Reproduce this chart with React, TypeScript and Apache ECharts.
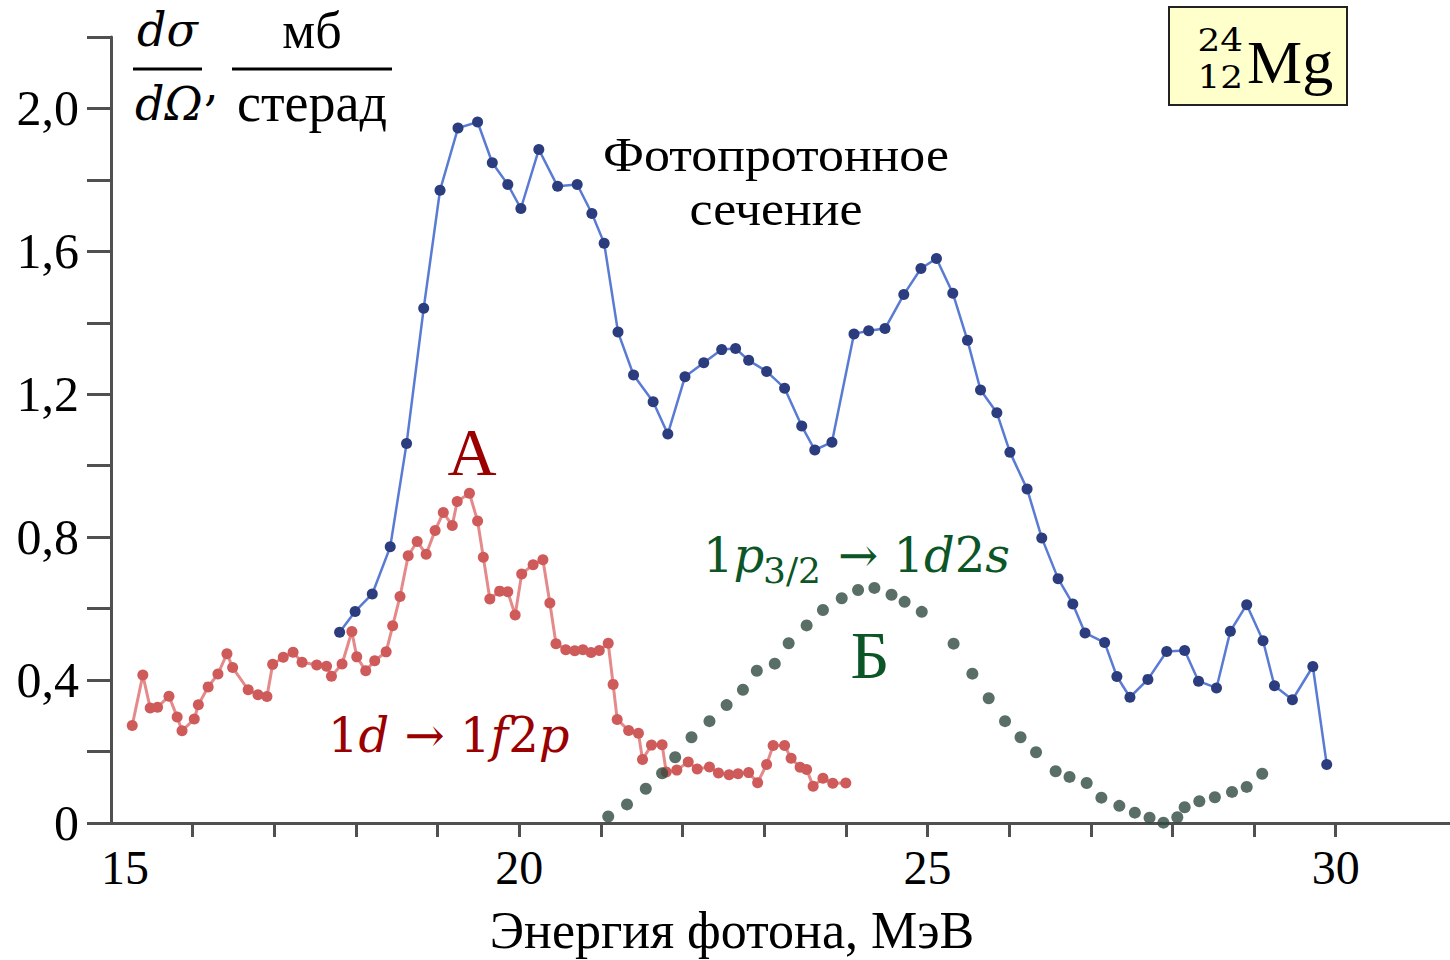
import React, { useEffect, useRef } from "react";
import * as echarts from "echarts";

// Фотопротонное сечение (blue)
const protonX = [17.80, 17.99, 18.20, 18.42, 18.62, 18.83, 19.03, 19.25, 19.49, 19.67, 19.86, 20.02, 20.24, 20.47, 20.71, 20.89, 21.04, 21.21, 21.40, 21.64, 21.82, 22.03, 22.26, 22.48, 22.65, 22.81, 23.03, 23.25, 23.46, 23.62, 23.83, 24.10, 24.28, 24.48, 24.71, 24.92, 25.11, 25.31, 25.49, 25.65, 25.85, 26.01, 26.22, 26.40, 26.60, 26.78, 26.93, 27.17, 27.32, 27.48, 27.70, 27.93, 28.15, 28.32, 28.54, 28.71, 28.91, 29.11, 29.25, 29.47, 29.72, 29.89];
const protonY = [0.534, 0.592, 0.641, 0.773, 1.062, 1.441, 1.771, 1.945, 1.962, 1.848, 1.787, 1.720, 1.885, 1.782, 1.787, 1.706, 1.623, 1.374, 1.254, 1.179, 1.089, 1.249, 1.288, 1.325, 1.328, 1.295, 1.264, 1.217, 1.111, 1.044, 1.066, 1.369, 1.378, 1.384, 1.479, 1.552, 1.580, 1.483, 1.351, 1.212, 1.148, 1.038, 0.935, 0.798, 0.684, 0.613, 0.532, 0.505, 0.410, 0.352, 0.402, 0.480, 0.483, 0.397, 0.378, 0.537, 0.611, 0.510, 0.384, 0.345, 0.438, 0.164];

// А: 1d → 1f2p (red)
const redX = [15.26, 15.39, 15.48, 15.57, 15.71, 15.81, 15.87, 16.02, 16.07, 16.19, 16.31, 16.42, 16.49, 16.68, 16.80, 16.91, 16.98, 17.11, 17.23, 17.34, 17.52, 17.64, 17.70, 17.83, 17.95, 18.01, 18.12, 18.23, 18.37, 18.45, 18.54, 18.64, 18.75, 18.86, 18.97, 19.07, 19.18, 19.24, 19.39, 19.49, 19.56, 19.64, 19.76, 19.86, 19.95, 20.03, 20.17, 20.29, 20.375, 20.45, 20.57, 20.68, 20.78, 20.88, 20.98, 21.09, 21.15, 21.20, 21.34, 21.46, 21.51, 21.62, 21.75, 21.80, 21.93, 22.07, 22.18, 22.33, 22.44, 22.57, 22.68, 22.81, 22.92, 23.03, 23.11, 23.25, 23.33, 23.44, 23.52, 23.60, 23.72, 23.84, 24.00];
const redY = [0.273, 0.414, 0.322, 0.324, 0.355, 0.297, 0.258, 0.291, 0.331, 0.381, 0.417, 0.474, 0.435, 0.373, 0.359, 0.354, 0.444, 0.464, 0.478, 0.450, 0.442, 0.439, 0.411, 0.445, 0.536, 0.465, 0.426, 0.454, 0.479, 0.552, 0.634, 0.748, 0.788, 0.752, 0.819, 0.869, 0.833, 0.900, 0.923, 0.845, 0.744, 0.627, 0.649, 0.647, 0.582, 0.697, 0.723, 0.737, 0.616, 0.502, 0.485, 0.482, 0.485, 0.477, 0.483, 0.503, 0.388, 0.290, 0.259, 0.251, 0.178, 0.218, 0.219, 0.143, 0.148, 0.171, 0.151, 0.157, 0.140, 0.135, 0.138, 0.141, 0.113, 0.164, 0.217, 0.217, 0.181, 0.156, 0.150, 0.103, 0.125, 0.111, 0.112];

// Б: 1p3/2 → 1d2s (green dots)
const greenX = [21.09, 21.32, 21.55, 21.75, 21.91, 22.11, 22.33, 22.54, 22.74, 22.91, 23.13, 23.30, 23.52, 23.72, 23.95, 24.15, 24.35, 24.56, 24.72, 24.93, 25.32, 25.55, 25.75, 25.95, 26.14, 26.33, 26.57, 26.74, 26.95, 27.13, 27.35, 27.54, 27.72, 27.89, 28.06, 28.15, 28.33, 28.52, 28.73, 28.91, 29.10];
const greenY = [0.018, 0.052, 0.096, 0.139, 0.184, 0.240, 0.285, 0.330, 0.373, 0.426, 0.446, 0.503, 0.553, 0.596, 0.629, 0.652, 0.658, 0.639, 0.619, 0.591, 0.502, 0.418, 0.349, 0.285, 0.240, 0.198, 0.145, 0.129, 0.112, 0.071, 0.048, 0.029, 0.015, 0.001, 0.016, 0.044, 0.061, 0.072, 0.087, 0.101, 0.138];

const xTickValues = [16, 17, 18, 19, 20, 21, 22, 23, 24, 25, 26, 27, 28, 29, 30];
const xLabelValues = [15, 20, 25, 30];
const yLabelValues = [0, 0.4, 0.8, 1.2, 1.6, 2.0];

const SERIF = "'Liberation Serif', 'Times New Roman', serif";
const MATH = "'DejaVu Serif', serif";
const RED = "#9b0000";
const GREEN = "#0b5526";

const pairs = (xs: number[], ys: number[]) => xs.map((x, i) => [x, ys[i]]);

export default function App() {
  const ref = useRef<HTMLDivElement>(null);
  useEffect(() => {
    if (!ref.current) return;
    const chart = echarts.init(ref.current, null, { renderer: "svg" });
    const axisColor = "#505050";
    chart.setOption({
      animation: false,
      backgroundColor: "#fff",
      grid: { left: 111, top: 37, right: 0, bottom: 137 },
      xAxis: {
        type: "value",
        min: 15,
        max: 31.4,
        interval: 1,
        splitLine: { show: false },
        axisLine: { lineStyle: { color: axisColor, width: 3 } },
        axisTick: { show: true, length: 14, lineStyle: { color: axisColor, width: 3 }, customValues: xTickValues },
        axisLabel: {
          customValues: xLabelValues,
          margin: 20,
          color: "#000",
          fontSize: 48,
          fontFamily: SERIF,
          formatter: (v: number) => (v === 15 ? "{s|15}" : String(v)),
          rich: { s: { padding: [0, 0, 0, 28], fontSize: 48, fontFamily: SERIF, color: "#000" } },
        },
      },
      yAxis: {
        type: "value",
        min: 0,
        max: 2.2,
        interval: 0.2,
        splitLine: { show: false },
        axisLine: { lineStyle: { color: axisColor, width: 3 } },
        axisTick: { show: true, length: 24, lineStyle: { color: axisColor, width: 3 } },
        axisLabel: {
          customValues: yLabelValues,
          margin: 32,
          color: "#000",
          fontSize: 50,
          fontFamily: SERIF,
          formatter: (v: number) => (v === 0 ? "0" : v.toFixed(1).replace(".", ",")),
        },
      },
      series: [
        {
          type: "line",
          data: pairs(redX, redY),
          symbol: "circle",
          symbolSize: 11,
          lineStyle: { color: "#e58a8a", width: 3 },
          itemStyle: { color: "#cf5a5a" },
          z: 2,
        },
        {
          type: "line",
          data: pairs(protonX, protonY),
          symbol: "circle",
          symbolSize: 11,
          lineStyle: { color: "#5a7bd4", width: 2.5 },
          itemStyle: { color: "#2b3d7e" },
          z: 3,
        },
        {
          type: "scatter",
          data: pairs(greenX, greenY),
          symbol: "circle",
          symbolSize: 12,
          itemStyle: { color: "#2f4b40" },
          z: 4,
        },
      ],
      graphic: [
        // y-axis title: dσ/dΩ, мб/стерад
        { type: "text", x: 137, y: 30, style: { text: "dσ", font: `italic 46px ${MATH}`, fill: "#000", verticalAlign: "middle", align: "left" } },
        { type: "line", shape: { x1: 133, y1: 69, x2: 202, y2: 69 }, style: { stroke: "#000", lineWidth: 3 } },
        { type: "text", x: 135, y: 104, style: { text: "dΩ", font: `italic 46px ${MATH}`, fill: "#000", verticalAlign: "middle", align: "left" } },
        { type: "text", x: 204, y: 84, style: { text: ",", font: `46px ${MATH}`, fill: "#000", verticalAlign: "middle", align: "left" } },
        { type: "text", x: 312, y: 30, style: { text: "мб", font: `52px ${SERIF}`, fill: "#000", verticalAlign: "middle", align: "center" } },
        { type: "line", shape: { x1: 232, y1: 69, x2: 392, y2: 69 }, style: { stroke: "#000", lineWidth: 3 } },
        { type: "text", x: 312, y: 103, style: { text: "стерад", font: `54px ${SERIF}`, fill: "#000", verticalAlign: "middle", align: "center" } },
        // x-axis title
        { type: "text", x: 732, y: 930, style: { text: "Энергия фотона, МэВ", font: `52px ${SERIF}`, fill: "#000", verticalAlign: "middle", align: "center" } },
        // Фотопротонное сечение
        { type: "text", x: 776, y: 155, scaleX: 1.08, style: { text: "Фотопротонное", font: `48px ${SERIF}`, fill: "#000", verticalAlign: "middle", align: "center" } },
        { type: "text", x: 776, y: 209, scaleX: 1.08, style: { text: "сечение", font: `48px ${SERIF}`, fill: "#000", verticalAlign: "middle", align: "center" } },
        // А / Б
        { type: "text", x: 472, y: 452, style: { text: "А", font: `68px ${SERIF}`, fill: RED, verticalAlign: "middle", align: "center" } },
        { type: "text", x: 870, y: 655, style: { text: "Б", font: `68px ${SERIF}`, fill: GREEN, verticalAlign: "middle", align: "center" } },
        // 1d → 1f2p
        {
          type: "text",
          x: 328,
          y: 735,
          style: {
            text: "{n|1}{i|d}{n| → 1}{i|f}{n|2}{i|p}",
            verticalAlign: "middle",
            align: "left",
            rich: {
              n: { fontFamily: MATH, fontSize: 48, fill: RED, fontStyle: "normal" },
              i: { fontFamily: MATH, fontSize: 48, fill: RED, fontStyle: "italic" },
            },
          },
        },
        // 1p3/2 → 1d2s
        {
          type: "text",
          x: 703,
          y: 555,
          style: {
            text: "{n|1}{i|p}",
            verticalAlign: "middle",
            align: "left",
            rich: {
              n: { fontFamily: MATH, fontSize: 48, fill: GREEN, fontStyle: "normal" },
              i: { fontFamily: MATH, fontSize: 48, fill: GREEN, fontStyle: "italic" },
            },
          },
        },
        { type: "text", x: 763, y: 570, style: { text: "3/2", font: `36px ${MATH}`, lineHeight: 30, fill: GREEN, verticalAlign: "middle", align: "left" } },
        {
          type: "text",
          x: 838,
          y: 555,
          style: {
            text: "{n|→ 1}{i|d}{n|2}{i|s}",
            verticalAlign: "middle",
            align: "left",
            rich: {
              n: { fontFamily: MATH, fontSize: 48, fill: GREEN, fontStyle: "normal" },
              i: { fontFamily: MATH, fontSize: 48, fill: GREEN, fontStyle: "italic" },
            },
          },
        },
        // Mg box
        { type: "rect", shape: { x: 1169, y: 7, width: 178, height: 98 }, style: { fill: "#ffffcc", stroke: "#222", lineWidth: 2 } },
        { type: "text", x: 1243, y: 40, scaleX: 1.12, style: { text: "24", font: `32px ${MATH}`, fill: "#000", verticalAlign: "middle", align: "right" } },
        { type: "text", x: 1243, y: 77, scaleX: 1.12, style: { text: "12", font: `32px ${MATH}`, fill: "#000", verticalAlign: "middle", align: "right" } },
        { type: "text", x: 1247, y: 62, style: { text: "Mg", font: `62px ${SERIF}`, fill: "#000", verticalAlign: "middle", align: "left" } },
      ],
    });
    return () => chart.dispose();
  }, []);
  return <div ref={ref} style={{ position: "absolute", left: 0, top: 0, width: 1450, height: 960 }} />;
}
